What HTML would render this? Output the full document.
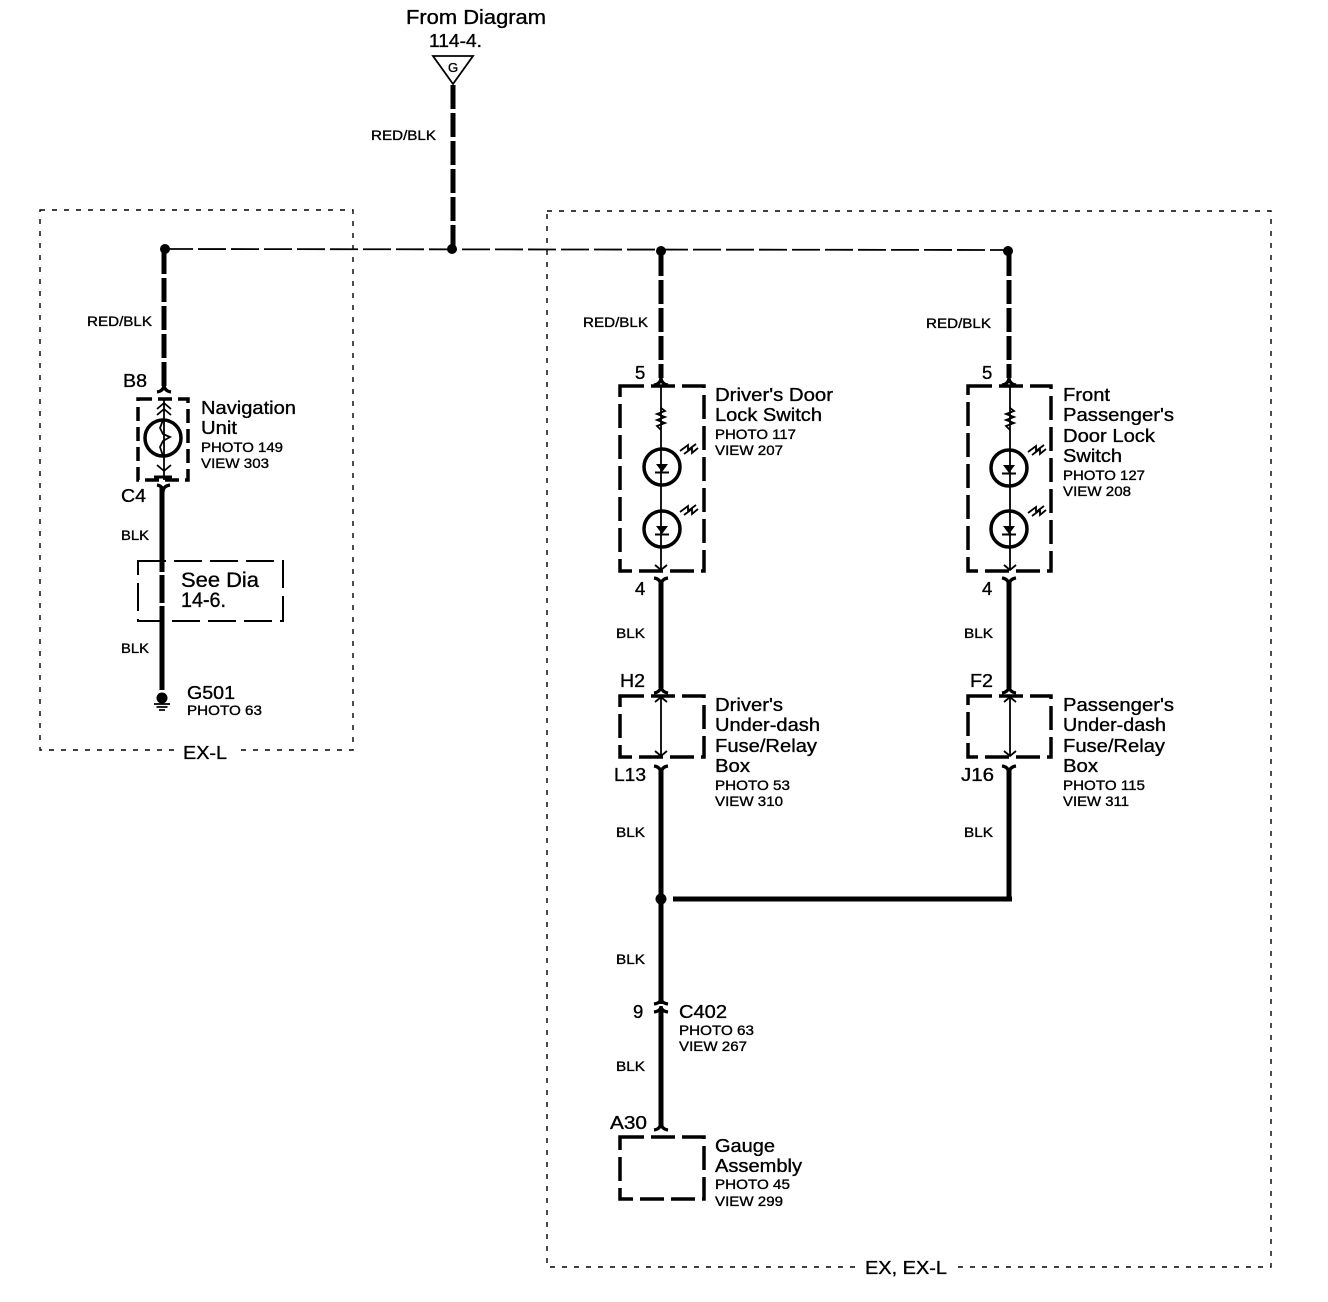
<!DOCTYPE html>
<html><head><meta charset="utf-8"><style>
html,body{margin:0;padding:0;background:#fff}
svg{display:block}
text{font-family:"Liberation Sans",sans-serif;fill:#000;stroke:#000;stroke-width:.35px}
.l{font-size:18.500px}.s{font-size:14px}.w{font-size:14px}
.bx{fill:none;stroke:#000;stroke-width:3.500;stroke-dasharray:24 7}
.dot{fill:none;stroke:#000;stroke-width:1.400;stroke-dasharray:5 7}
.red{fill:none;stroke:#000;stroke-width:5;stroke-dasharray:24 4}
.blk{fill:none;stroke:#000;stroke-width:5}
.th{fill:none;stroke:#000;stroke-width:1.800}
.cir{fill:none;stroke:#000;stroke-width:3.500}
.cn{fill:none;stroke:#000;stroke-width:3.200}
</style></head><body>
<svg width="1328" height="1302" viewBox="0 0 1328 1302" xmlns="http://www.w3.org/2000/svg">
<rect width="1328" height="1302" fill="#fff"/>
<rect class="dot" x="40" y="210" width="313" height="540"/>
<rect class="dot" x="547" y="211" width="724" height="1056"/>
<rect x="176" y="740" width="60" height="20" fill="#fff"/>
<rect x="858" y="1257" width="96" height="20" fill="#fff"/>
<text class="l" x="406" y="24" textLength="140" lengthAdjust="spacingAndGlyphs" style="font-size:20px">From Diagram</text>
<text class="l" x="429" y="47" textLength="53" lengthAdjust="spacingAndGlyphs">114-4.</text>
<path d="M433 56H473L453 84Z" fill="#fff" stroke="#000" stroke-width="1.800"/>
<text x="453" y="72" text-anchor="middle" style="font-size:13px">G</text>
<line class="red" x1="453" y1="85" x2="453" y2="248"/>
<text class="w" x="371" y="140" textLength="65" lengthAdjust="spacingAndGlyphs">RED/BLK</text>
<line x1="165" y1="249" x2="1008" y2="250" stroke="#000" stroke-width="1.800" stroke-dasharray="28 5"/>
<circle cx="165" cy="249" r="5"/><circle cx="452" cy="249" r="5"/><circle cx="661" cy="251" r="5"/><circle cx="1008" cy="251" r="5"/>
<!-- left -->
<line class="red" x1="164" y1="250" x2="164" y2="387"/>
<text class="w" x="87" y="326" textLength="65" lengthAdjust="spacingAndGlyphs">RED/BLK</text>
<text class="l" x="123" y="387" textLength="24" lengthAdjust="spacingAndGlyphs">B8</text>
<path class="cn" d="M157 392Q164 391 164 384Q164 391 171 392"/>
<rect class="bx" x="138" y="399" width="50" height="81" style="stroke-dasharray:14 6"/>
<path class="th" d="M164 400V480M157 409L164 403L171 409M157 415L164 409L171 415M157 465L164 471L171 465"/>
<path d="M154 477H172" stroke="#000" stroke-width="3"/>
<circle class="cir" cx="163" cy="438" r="18"/>
<path class="th" d="M163 420L160 428L163 434L170 437L163 441L160 447L163 456" stroke-width="2"/>
<path class="cn" d="M157 485Q163 486 163 492Q163 486 170 485"/>
<text class="l" x="121" y="502" textLength="25" lengthAdjust="spacingAndGlyphs">C4</text>
<text class="l" x="201" y="414" textLength="95" lengthAdjust="spacingAndGlyphs">Navigation</text>
<text class="l" x="201" y="434" textLength="36" lengthAdjust="spacingAndGlyphs">Unit</text>
<text class="s" x="201" y="452" textLength="82" lengthAdjust="spacingAndGlyphs">PHOTO 149</text>
<text class="s" x="201" y="468" textLength="68" lengthAdjust="spacingAndGlyphs">VIEW 303</text>
<text class="w" x="121" y="540" textLength="28" lengthAdjust="spacingAndGlyphs">BLK</text>
<rect x="138" y="561" width="145" height="60" fill="none" stroke="#000" stroke-width="2" stroke-dasharray="28 8"/>
<line x1="162" y1="488" x2="162" y2="692" stroke="#000" stroke-width="5" stroke-dasharray="84 3 28 3 84"/>
<text class="l" x="181" y="587" textLength="78" lengthAdjust="spacingAndGlyphs" style="font-size:21px">See Dia</text>
<text class="l" x="181" y="607" textLength="45" lengthAdjust="spacingAndGlyphs" style="font-size:21px">14-6.</text>
<text class="w" x="121" y="653" textLength="28" lengthAdjust="spacingAndGlyphs">BLK</text>
<circle cx="162" cy="698" r="5.500"/>
<path class="th" d="M154 704H170M156.500 707H167.500M159 710H165"/>
<text class="l" x="187" y="699" textLength="48" lengthAdjust="spacingAndGlyphs">G501</text>
<text class="s" x="187" y="715" textLength="75" lengthAdjust="spacingAndGlyphs">PHOTO 63</text>
<text class="l" x="183" y="759" textLength="44" lengthAdjust="spacingAndGlyphs">EX-L</text>
<!-- driver column -->
<line class="red" x1="661" y1="252" x2="661" y2="378"/>
<text class="w" x="583" y="327" textLength="65" lengthAdjust="spacingAndGlyphs">RED/BLK</text>
<text class="l" x="635" y="379">5</text>
<path class="cn" d="M654 385Q661 384 661 377Q661 384 668 385"/>
<rect class="bx" x="620" y="386" width="84" height="185"/>
<line class="th" x1="661" y1="387" x2="661" y2="570"/>
<path class="th" d="M661 408L665 411L657 414L665 417L657 420L665 423L657 426L661 430"/>
<circle class="cir" cx="662" cy="467" r="18"/><circle class="cir" cx="662" cy="529" r="18"/>
<path d="M656 464H668L662 472Z"/><path d="M655 472.500H669" stroke="#000" stroke-width="2"/>
<path d="M656 526H668L662 534Z"/><path d="M655 534.500H669" stroke="#000" stroke-width="2"/>
<path class="th" d="M680 451L688 445L688 450L696 444M684 454L692 448L692 453L698 448M680 512L688 506L688 511L696 505M684 515L692 509L692 514L698 509"/>
<path class="th" d="M655 565L661 570L667 565"/>
<path class="cn" d="M654 578Q661 579 661 586Q661 579 668 578"/>
<line class="blk" x1="661" y1="580" x2="661" y2="688"/>
<text class="l" x="635" y="595">4</text>
<text class="w" x="616" y="638" textLength="29" lengthAdjust="spacingAndGlyphs">BLK</text>
<text class="l" x="715" y="401" textLength="118" lengthAdjust="spacingAndGlyphs">Driver's Door</text>
<text class="l" x="715" y="421" textLength="107" lengthAdjust="spacingAndGlyphs">Lock Switch</text>
<text class="s" x="715" y="439" textLength="81" lengthAdjust="spacingAndGlyphs">PHOTO 117</text>
<text class="s" x="715" y="455" textLength="68" lengthAdjust="spacingAndGlyphs">VIEW 207</text>
<text class="l" x="620" y="687" textLength="25" lengthAdjust="spacingAndGlyphs">H2</text>
<path class="cn" d="M654 693Q661 692 661 685Q661 692 668 693"/>
<rect class="bx" x="620" y="696" width="84" height="61"/>
<line class="th" x1="661" y1="697" x2="661" y2="756"/>
<path class="th" d="M655 702L661 697L667 702M655 751L661 756L667 751"/>
<path class="cn" d="M654 766Q661 767 661 774Q661 767 668 766"/>
<line class="blk" x1="661" y1="768" x2="661" y2="1004"/>
<text class="l" x="614" y="781" textLength="32" lengthAdjust="spacingAndGlyphs">L13</text>
<text class="l" x="715" y="711" textLength="68" lengthAdjust="spacingAndGlyphs">Driver's</text>
<text class="l" x="715" y="731" textLength="105" lengthAdjust="spacingAndGlyphs">Under-dash</text>
<text class="l" x="715" y="752" textLength="102" lengthAdjust="spacingAndGlyphs">Fuse/Relay</text>
<text class="l" x="715" y="772" textLength="35" lengthAdjust="spacingAndGlyphs">Box</text>
<text class="s" x="715" y="790" textLength="75" lengthAdjust="spacingAndGlyphs">PHOTO 53</text>
<text class="s" x="715" y="806" textLength="68" lengthAdjust="spacingAndGlyphs">VIEW 310</text>
<text class="w" x="616" y="837" textLength="29" lengthAdjust="spacingAndGlyphs">BLK</text>
<circle cx="661" cy="899" r="5.500"/>
<line x1="673" y1="899" x2="1012" y2="899" stroke="#000" stroke-width="5"/>
<text class="w" x="616" y="964" textLength="29" lengthAdjust="spacingAndGlyphs">BLK</text>
<text class="l" x="633" y="1018">9</text>
<path class="cn" d="M654 1004Q661 1003 661 998Q661 1003 668 1004M654 1012Q661 1011 661 1006Q661 1011 668 1012"/>
<line class="blk" x1="661" y1="1008" x2="661" y2="1126"/>
<text class="l" x="679" y="1018" textLength="48" lengthAdjust="spacingAndGlyphs">C402</text>
<text class="s" x="679" y="1035" textLength="75" lengthAdjust="spacingAndGlyphs">PHOTO 63</text>
<text class="s" x="679" y="1051" textLength="68" lengthAdjust="spacingAndGlyphs">VIEW 267</text>
<text class="w" x="616" y="1071" textLength="29" lengthAdjust="spacingAndGlyphs">BLK</text>
<text class="l" x="610" y="1129" textLength="37" lengthAdjust="spacingAndGlyphs">A30</text>
<path class="cn" d="M654 1130Q661 1129 661 1122Q661 1129 668 1130"/>
<rect class="bx" x="620" y="1137" width="84" height="62"/>
<text class="l" x="715" y="1152" textLength="60" lengthAdjust="spacingAndGlyphs">Gauge</text>
<text class="l" x="715" y="1172" textLength="87" lengthAdjust="spacingAndGlyphs">Assembly</text>
<text class="s" x="715" y="1189" textLength="75" lengthAdjust="spacingAndGlyphs">PHOTO 45</text>
<text class="s" x="715" y="1206" textLength="68" lengthAdjust="spacingAndGlyphs">VIEW 299</text>
<!-- passenger column -->
<line class="red" x1="1009" y1="252" x2="1009" y2="378"/>
<text class="w" x="926" y="328" textLength="65" lengthAdjust="spacingAndGlyphs">RED/BLK</text>
<text class="l" x="982" y="379">5</text>
<path class="cn" d="M1002 385Q1009 384 1009 377Q1009 384 1016 385"/>
<rect class="bx" x="968" y="386" width="83" height="185"/>
<line class="th" x1="1010" y1="387" x2="1010" y2="570"/>
<path class="th" d="M1010 408L1014 411L1006 414L1014 417L1006 420L1014 423L1006 426L1010 430"/>
<circle class="cir" cx="1009" cy="468" r="18"/><circle class="cir" cx="1009" cy="529" r="18"/>
<path d="M1003 465H1015L1009 473Z"/><path d="M1002 473.500H1016" stroke="#000" stroke-width="2"/>
<path d="M1003 526H1015L1009 534Z"/><path d="M1002 534.500H1016" stroke="#000" stroke-width="2"/>
<path class="th" d="M1028 452L1036 446L1036 451L1044 445M1032 455L1040 449L1040 454L1046 449M1028 513L1036 507L1036 512L1044 506M1032 516L1040 510L1040 515L1046 510"/>
<path class="th" d="M1004 565L1010 570L1016 565"/>
<path class="cn" d="M1002 578Q1009 579 1009 586Q1009 579 1016 578"/>
<line class="blk" x1="1009" y1="580" x2="1009" y2="688"/>
<text class="l" x="982" y="595">4</text>
<text class="w" x="964" y="638" textLength="29" lengthAdjust="spacingAndGlyphs">BLK</text>
<text class="l" x="1063" y="401" textLength="47" lengthAdjust="spacingAndGlyphs">Front</text>
<text class="l" x="1063" y="421" textLength="111" lengthAdjust="spacingAndGlyphs">Passenger's</text>
<text class="l" x="1063" y="442" textLength="92" lengthAdjust="spacingAndGlyphs">Door Lock</text>
<text class="l" x="1063" y="462" textLength="59" lengthAdjust="spacingAndGlyphs">Switch</text>
<text class="s" x="1063" y="480" textLength="82" lengthAdjust="spacingAndGlyphs">PHOTO 127</text>
<text class="s" x="1063" y="496" textLength="68" lengthAdjust="spacingAndGlyphs">VIEW 208</text>
<text class="l" x="970" y="687" textLength="23" lengthAdjust="spacingAndGlyphs">F2</text>
<path class="cn" d="M1002 693Q1009 692 1009 685Q1009 692 1016 693"/>
<rect class="bx" x="968" y="696" width="83" height="61"/>
<line class="th" x1="1010" y1="697" x2="1010" y2="756"/>
<path class="th" d="M1004 702L1010 697L1016 702M1004 751L1010 756L1016 751"/>
<path class="cn" d="M1002 766Q1009 767 1009 774Q1009 767 1016 766"/>
<line class="blk" x1="1009" y1="768" x2="1009" y2="901"/>
<text class="l" x="961" y="781" textLength="33" lengthAdjust="spacingAndGlyphs">J16</text>
<text class="l" x="1063" y="711" textLength="111" lengthAdjust="spacingAndGlyphs">Passenger's</text>
<text class="l" x="1063" y="731" textLength="103" lengthAdjust="spacingAndGlyphs">Under-dash</text>
<text class="l" x="1063" y="752" textLength="102" lengthAdjust="spacingAndGlyphs">Fuse/Relay</text>
<text class="l" x="1063" y="772" textLength="35" lengthAdjust="spacingAndGlyphs">Box</text>
<text class="s" x="1063" y="790" textLength="82" lengthAdjust="spacingAndGlyphs">PHOTO 115</text>
<text class="s" x="1063" y="806" textLength="66" lengthAdjust="spacingAndGlyphs">VIEW 311</text>
<text class="w" x="964" y="837" textLength="29" lengthAdjust="spacingAndGlyphs">BLK</text>
<text class="l" x="865" y="1274" textLength="82" lengthAdjust="spacingAndGlyphs">EX, EX-L</text>
</svg>
</body></html>
